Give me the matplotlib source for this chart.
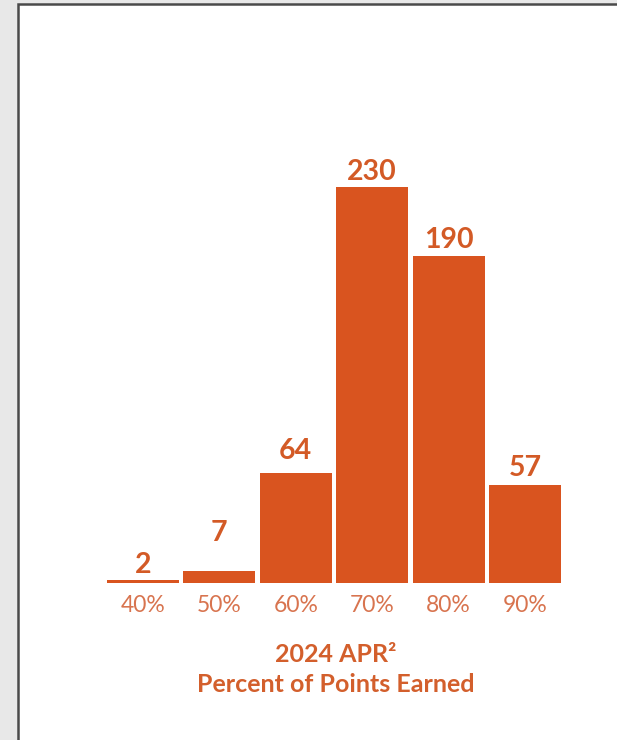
import matplotlib
matplotlib.use("Agg")
import matplotlib.pyplot as plt
from matplotlib.patches import Rectangle

categories = ["40%", "50%", "60%", "70%", "80%", "90%"]
counts = [2, 7, 64, 230, 190, 57]
title_lines = ["2024 APR\u00b2", "Percent of Points Earned"]

# style: per-label gap above bar (points), as laid out in the original
label_pads = [0.8, 18.0, 6.5, 1.5, 2.2, 3.0]

W, H = 617, 740
fig = plt.figure(figsize=(W / 100, H / 100), dpi=100)
fig.patch.set_facecolor("#e8e8e8")

# white panel with dark border (extends beyond right and bottom edges)
panel = Rectangle((18 / W, -0.2), 1.2, 1.2 - 4 / H, transform=fig.transFigure,
                  facecolor="white", edgecolor="#4a4a4a", linewidth=1.8, zorder=-10)
fig.patches.append(panel)

fam = ["Lato", "DejaVu Sans"]
bar_color = "#D9541F"

ax_left, ax_right = 100, 580
ax_top, ax_base = 100, 583
ax = fig.add_axes([ax_left / W, (H - ax_base) / H, (ax_right - ax_left) / W, (ax_base - ax_top) / H])
ax.set_zorder(5)
ax.set_facecolor("none")
pitch = 76.4
x = list(range(len(categories)))
ax.set_xlim(-(143 - ax_left) / pitch, 5 + (ax_right - 525) / pitch)
ax.set_ylim(0, (ax_base - ax_top) / 1.722)
bars = ax.bar(x, counts, width=0.94, color=bar_color)
for rect, c, pad in zip(bars, counts, label_pads):
    ax.annotate(str(c), (rect.get_x() + rect.get_width() / 2, rect.get_height()),
                xytext=(0, pad), textcoords="offset points", ha="center", va="bottom",
                color="#D35A26", fontsize=20.5, fontweight="bold", family=fam)
ax.set_xticks(x)
ax.set_xticklabels(categories, fontsize=16.5, color="#D8744F", family=fam)
ax.tick_params(axis="x", length=0, pad=8.5)
ax.set_yticks([])
for s in ax.spines.values():
    s.set_visible(False)

fig.text(336 / W, 1 - 655 / H, title_lines[0], ha="center", va="center", fontsize=18,
         fontweight="bold", color="#D35F2C", family=fam, zorder=6)
fig.text(336 / W, 1 - 684 / H, title_lines[1], ha="center", va="center", fontsize=18,
         fontweight="bold", color="#D35F2C", family=fam, zorder=6)

fig.savefig("out.png", dpi=100, facecolor=fig.get_facecolor())
